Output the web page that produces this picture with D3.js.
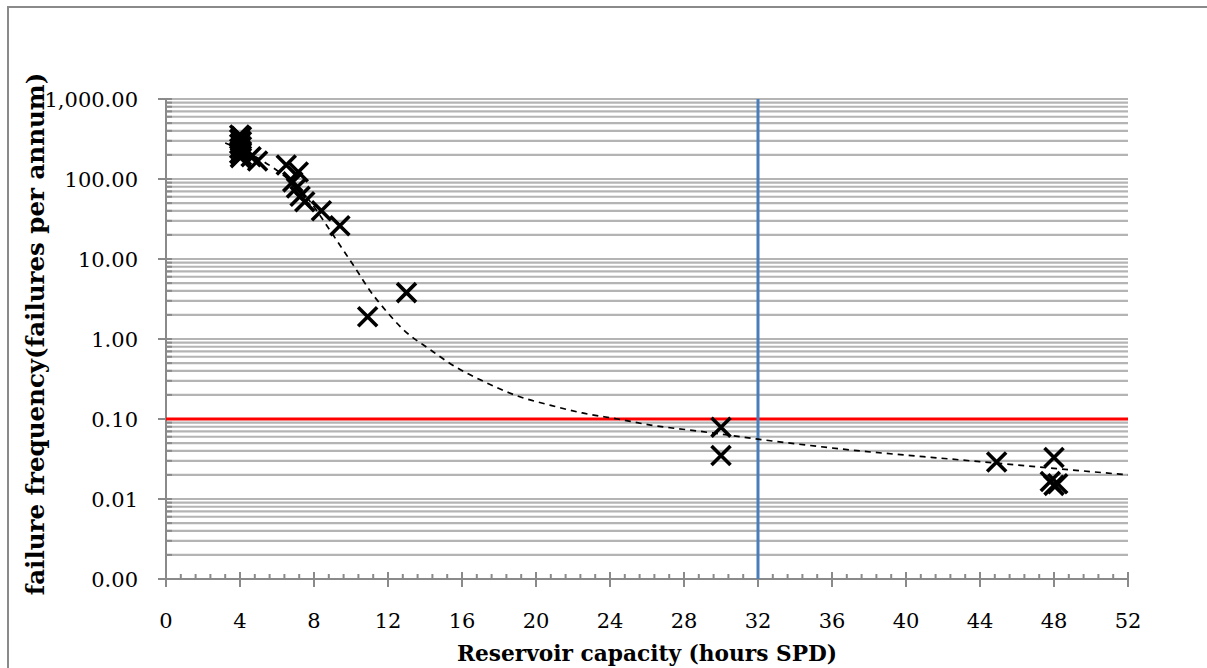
<!DOCTYPE html>
<html>
<head>
<meta charset="utf-8">
<script src="https://cdn.jsdelivr.net/npm/d3@7"></script>
<style>
  html, body { margin: 0; padding: 0; background: #fff; }
  svg { display: block; }
</style>
</head>
<body>
<svg id="chart" width="1207" height="668"></svg>
<script>
// Observed failure frequency against reservoir capacity
const capacityHours = [
  3.98, 4.08, 3.98, 4.08, 3.98, 4.08, 3.98, 4.08, 3.98, 4.08, 4.02, 4.6, 4.95,
  6.5, 7.15, 6.85, 7.05, 7.25, 7.5, 8.4, 9.4,
  10.9, 13.0,
  30.0, 30.0,
  44.9, 48.0, 47.8, 48.0, 48.2
];
const failuresPerAnnum = [
  355, 340, 315, 295, 275, 255, 240, 222, 208, 196, 185, 190, 168,
  150, 122, 92, 77, 61, 52, 40, 26,
  1.9, 3.8,
  0.079, 0.035,
  0.029, 0.033, 0.0165, 0.0148, 0.0155
];

// Fitted trend curve (dashed)
const trendHours = [3.2, 5.1, 6.7, 7.8, 8.4, 9.0, 9.65, 10.2, 11.0, 11.9, 12.8, 14.3, 15.5, 17.1, 19.0, 20.8, 22.5, 24.4, 26.2, 28.9, 32.0, 37.0, 42.4, 47.8, 52.0];
const trendFreq  = [282, 175, 95, 52, 33, 20.5, 12.2, 7.9, 4.1, 2.24, 1.33, 0.73, 0.47, 0.30, 0.194, 0.148, 0.119, 0.1, 0.084, 0.070, 0.056, 0.041, 0.0316, 0.0244, 0.020];

// Reference levels
const targetFrequency = 0.1;
const designCapacity = 32;

// Axis ticks
const xTicks = [0, 4, 8, 12, 16, 20, 24, 28, 32, 36, 40, 44, 48, 52];
const yTicks = [0.001, 0.01, 0.1, 1, 10, 100, 1000];
const yTickLabels = ["0.00", "0.01", "0.10", "1.00", "10.00", "100.00", "1,000.00"];

const svg = d3.select("#chart");
const W = 1207, H = 668;
const margin = { left: 166, right: W - 1128, top: 99, bottom: H - 579 };

const x = d3.scaleLinear().domain([0, 52]).range([margin.left, W - margin.right]);
const y = d3.scaleLog().domain([0.001, 1000]).range([H - margin.bottom, margin.top]);

const gridColor = "#b4b4b4";
const axisColor = "#8a8a8a";
const serif = "'DejaVu Serif', 'Liberation Serif', serif";

// Outer frame
svg.append("rect")
  .attr("x", 8).attr("y", 7)
  .attr("width", W + 20).attr("height", H + 20)
  .attr("fill", "none").attr("stroke", "#8a8a8a").attr("stroke-width", 2);

// Log gridlines (major + minor)
const gridVals = [];
for (let e = -3; e < 3; e++) {
  for (let m = 1; m <= 9; m++) gridVals.push(m * Math.pow(10, e));
}
gridVals.push(1000);

svg.append("g").selectAll("line").data(gridVals.filter(v => v > 0.001)).join("line")
  .attr("x1", x(0)).attr("x2", x(52))
  .attr("y1", d => y(d)).attr("y2", d => y(d))
  .attr("stroke", gridColor).attr("stroke-width", 2.2);

// Y axis line with ticks
const yAxis = svg.append("g");
yAxis.append("line")
  .attr("x1", x(0)).attr("x2", x(0))
  .attr("y1", y(1000)).attr("y2", y(0.001))
  .attr("stroke", axisColor).attr("stroke-width", 2);
yAxis.selectAll("line.minor").data(gridVals).join("line")
  .attr("class", "minor")
  .attr("x1", x(0)).attr("x2", x(0) + 6)
  .attr("y1", d => y(d)).attr("y2", d => y(d))
  .attr("stroke", axisColor).attr("stroke-width", 2);
yAxis.selectAll("line.major").data(yTicks).join("line")
  .attr("class", "major")
  .attr("x1", x(0) - 8).attr("x2", x(0))
  .attr("y1", d => y(d)).attr("y2", d => y(d))
  .attr("stroke", axisColor).attr("stroke-width", 2);
yAxis.selectAll("text").data(yTicks).join("text")
  .attr("x", 138).attr("y", d => y(d))
  .attr("dy", "0.36em")
  .attr("text-anchor", "end")
  .attr("font-family", serif).attr("font-size", 21)
  .attr("fill", "#000")
  .text((d, i) => yTickLabels[i]);

// X axis line with ticks
const xAxis = svg.append("g");
xAxis.append("line")
  .attr("x1", x(0)).attr("x2", x(52))
  .attr("y1", y(0.001)).attr("y2", y(0.001))
  .attr("stroke", axisColor).attr("stroke-width", 2);
const minorX = d3.range(0, 52.01, 0.8);
xAxis.selectAll("line.minor").data(minorX).join("line")
  .attr("class", "minor")
  .attr("x1", d => x(d)).attr("x2", d => x(d))
  .attr("y1", y(0.001) - 5).attr("y2", y(0.001))
  .attr("stroke", axisColor).attr("stroke-width", 2);
xAxis.selectAll("line.major").data(xTicks).join("line")
  .attr("class", "major")
  .attr("x1", d => x(d)).attr("x2", d => x(d))
  .attr("y1", y(0.001) - 7).attr("y2", y(0.001) + 8)
  .attr("stroke", axisColor).attr("stroke-width", 2);
xAxis.selectAll("text").data(xTicks).join("text")
  .attr("x", d => x(d)).attr("y", 628)
  .attr("text-anchor", "middle")
  .attr("font-family", serif).attr("font-size", 21)
  .attr("fill", "#000")
  .text(d => d);

// Reference lines
svg.append("line")
  .attr("x1", x(0)).attr("x2", x(52))
  .attr("y1", y(targetFrequency)).attr("y2", y(targetFrequency))
  .attr("stroke", "#ff0000").attr("stroke-width", 3);
svg.append("line")
  .attr("x1", x(designCapacity)).attr("x2", x(designCapacity))
  .attr("y1", y(1000)).attr("y2", y(0.001))
  .attr("stroke", "#4a7ebb").attr("stroke-width", 3);

// Trend curve
const trend = trendHours.map((h, i) => [h, trendFreq[i]]);
svg.append("path")
  .datum(trend)
  .attr("fill", "none")
  .attr("stroke", "#000")
  .attr("stroke-width", 1.7)
  .attr("stroke-dasharray", "6,5")
  .attr("d", d3.line().x(d => x(d[0])).y(d => y(d[1])).curve(d3.curveMonotoneX));

// Cross markers
const pts = capacityHours.map((h, i) => [h, failuresPerAnnum[i]]);
const s = 9.5;
svg.append("g").selectAll("path").data(pts).join("path")
  .attr("transform", d => `translate(${x(d[0])},${y(d[1])})`)
  .attr("d", `M${-s},${-s}L${s},${s}M${-s},${s}L${s},${-s}`)
  .attr("stroke", "#000").attr("stroke-width", 3.6)
  .attr("fill", "none");

// Axis titles
svg.append("text")
  .attr("x", (x(0) + x(52)) / 2).attr("y", 661)
  .attr("text-anchor", "middle")
  .attr("font-family", serif).attr("font-weight", "bold").attr("font-size", 21.7)
  .attr("fill", "#000")
  .text("Reservoir capacity (hours SPD)");
svg.append("text")
  .attr("transform", `translate(44,334) rotate(-90)`)
  .attr("text-anchor", "middle")
  .attr("font-family", serif).attr("font-weight", "bold").attr("font-size", 24.5)
  .attr("fill", "#000")
  .text("failure frequency(failures per annum)");
</script>
</body>
</html>
